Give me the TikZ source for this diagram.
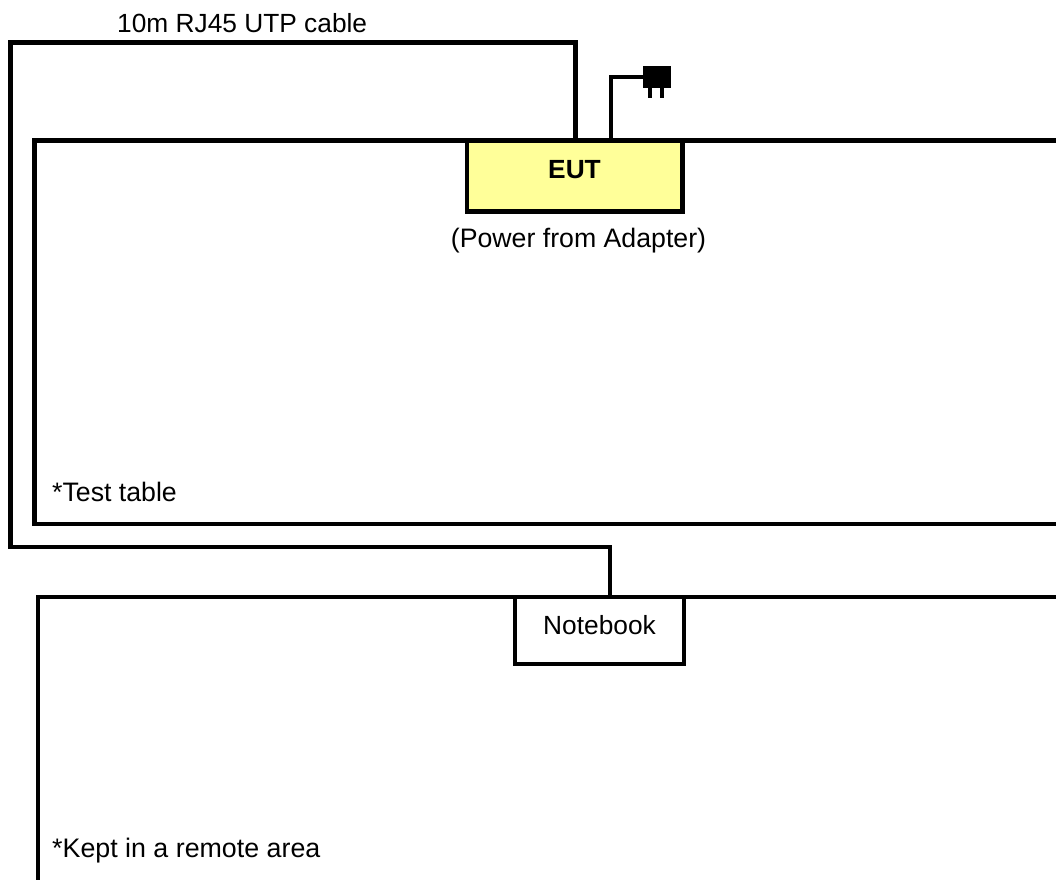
\documentclass[tikz,border=0pt]{standalone}
\usepackage{fontspec}
\setmainfont{Liberation Sans}
\definecolor{eutfill}{HTML}{FFFF99}
\tikzset{
  wire/.style={draw=black,line width=4.2pt,line join=miter,line cap=butt},
  lbl/.style={inner sep=0pt,anchor=base west,font=\fontsize{26.3pt}{30pt}\selectfont},
  box/.style={draw=black,line width=4.2pt,inner sep=0pt,anchor=north west},
  prong/.style={fill=black,draw=none,inner sep=0pt,outer sep=0pt,anchor=north west}
}
\begin{document}
\begin{tikzpicture}[x=1pt,y=-1pt]
\useasboundingbox (0,0) rectangle (1056,879);
\clip (0,0) rectangle (1056,879);
\fill[white] (0,0) rectangle (1056,879);
% test table and remote area (run off the page)
\draw[wire] (1070,140.5) -- (34.5,140.5) -- (34.5,524) -- (1070,524);
\draw[wire] (1070,596.6) -- (38,596.6) -- (38,890);
% devices
\node[box,fill=eutfill,minimum width=215.7pt,minimum height=71pt] (eut) at (464.6,138.4) {};
\node[lbl,anchor=base,font=\fontsize{26.3pt}{30pt}\selectfont\bfseries] (euttext) at (574.5,178) {EUT};
\node[box,fill=white,minimum width=169.6pt,minimum height=67pt] (notebook) at (512.6,594.5) {};
\node[lbl,anchor=base] (nbtext) at (599.5,634) {Notebook};
% cable
\coordinate (c1) at (575.4,139);
\coordinate (c2) at (575.4,42.5);
\coordinate (c3) at (10.5,42.5);
\coordinate (c4) at (10.5,547);
\coordinate (c5) at (610,547);
\coordinate (c6) at (610,595.5);
\draw[wire] (c1) -- (c2) -- (c3) -- (c4) -- (c5) -- (c6);
% plug
\node[prong,minimum width=28pt,minimum height=22pt] (plug) at (643,66) {};
\node[prong,minimum width=4pt,minimum height=11pt] (pa) at (648,87) {};
\node[prong,minimum width=4pt,minimum height=11pt] (pb) at (660,87) {};
\coordinate (p1) at (611,139);
\coordinate (p2) at (611,77);
\draw[wire] (p1) -- (p2) -- (plug.west);
% labels
\node[lbl] (cablelabel) at (117,32) {10m RJ45 UTP cable};
\node[lbl,anchor=base,font=\fontsize{26.7pt}{30pt}\selectfont] (adapter) at (578.5,247) {(Power from Adapter)};
\node[lbl,font=\fontsize{26.7pt}{30pt}\selectfont] (tablelabel) at (52,501) {*Test table};
\node[lbl,font=\fontsize{26.8pt}{30pt}\selectfont] (remotelabel) at (52,857) {*Kept in a remote area};
\end{tikzpicture}
\end{document}
